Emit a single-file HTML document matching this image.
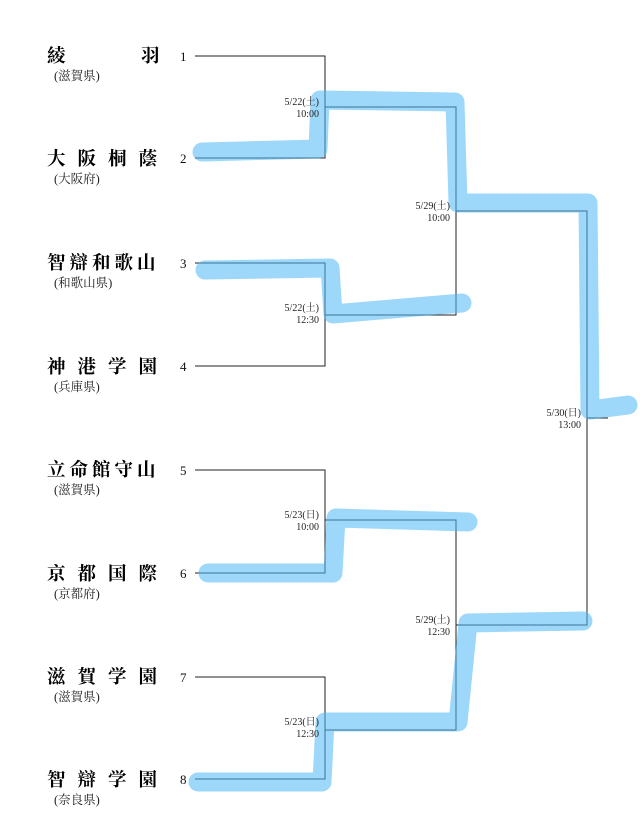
<!DOCTYPE html>
<html><head><meta charset="utf-8"><style>
body{margin:0;background:#fff}
svg{display:block}
.n{font-family:"Liberation Serif","Noto Serif CJK SC",serif;font-size:18.5px;fill:#000;font-weight:bold}
.p{font-family:"Liberation Serif","Noto Serif CJK SC",serif;font-size:12.5px;fill:#222}
.d{font-family:"Liberation Serif","Noto Serif CJK SC",serif;font-size:10px;fill:#222;text-anchor:end}
.num{font-family:"Liberation Serif",serif;font-size:13px;fill:#111}
</style></head><body>
<svg width="640" height="837" viewBox="0 0 640 837">
<g stroke="#222" stroke-width="1" fill="none">
<polyline points="195,56 325,56 325,158 195,158"/>
<polyline points="195,263 325,263 325,366 195,366"/>
<polyline points="195,470 325,470 325,573 195,573"/>
<polyline points="195,677 325,677 325,779 195,779"/>
<polyline points="325,107 456,107 456,315 325,315"/>
<polyline points="325,520 456,520 456,730 325,730"/>
<polyline points="456,211 587,211 587,625 456,625"/>
<line x1="587" y1="418" x2="608" y2="418"/>
</g>
<g stroke="#4db8f5" stroke-opacity="0.55" stroke-width="19" fill="none" stroke-linejoin="round" stroke-linecap="round">
<polyline points="202,152 318,149 320,100 455,102 458,203 588,203 590,410 628,405"/>
<polyline points="205,270 330,268 333,314 462,303"/>
<polyline points="208,573 333,573 336,518 468,522"/>
<polyline points="198,782 322,782 325,722 458,722 468,623 583,621"/>
</g>
<g>
<text class="n" x="47" y="62">綾</text><text class="n" x="141" y="62">羽</text>
<text class="p" x="54" y="80">(滋賀県)</text>
<text class="n" x="47" y="165" letter-spacing="12">大阪桐蔭</text>
<text class="p" x="54" y="183">(大阪府)</text>
<text class="n" x="47" y="269" letter-spacing="4">智辯和歌山</text>
<text class="p" x="54" y="287">(和歌山県)</text>
<text class="n" x="47" y="373" letter-spacing="12">神港学園</text>
<text class="p" x="54" y="391">(兵庫県)</text>
<text class="n" x="47" y="476" letter-spacing="4">立命館守山</text>
<text class="p" x="54" y="494">(滋賀県)</text>
<text class="n" x="47" y="580" letter-spacing="12">京都国際</text>
<text class="p" x="54" y="598">(京都府)</text>
<text class="n" x="47" y="683" letter-spacing="12">滋賀学園</text>
<text class="p" x="54" y="701">(滋賀県)</text>
<text class="n" x="47" y="786" letter-spacing="12">智辯学園</text>
<text class="p" x="54" y="804">(奈良県)</text>
</g>
<g class="num">
<text class="num" x="180" y="61">1</text><text class="num" x="180" y="163">2</text>
<text class="num" x="180" y="268">3</text><text class="num" x="180" y="371">4</text>
<text class="num" x="180" y="475">5</text><text class="num" x="180" y="578">6</text>
<text class="num" x="180" y="682">7</text><text class="num" x="180" y="784">8</text>
</g>
<text class="d" x="319" y="105">5/22(土)</text><text class="d" x="319" y="117">10:00</text>
<text class="d" x="319" y="311">5/22(土)</text><text class="d" x="319" y="323">12:30</text>
<text class="d" x="319" y="518">5/23(日)</text><text class="d" x="319" y="530">10:00</text>
<text class="d" x="319" y="725">5/23(日)</text><text class="d" x="319" y="737">12:30</text>
<text class="d" x="450" y="209">5/29(土)</text><text class="d" x="450" y="221">10:00</text>
<text class="d" x="450" y="623">5/29(土)</text><text class="d" x="450" y="635">12:30</text>
<text class="d" x="581" y="416">5/30(日)</text><text class="d" x="581" y="428">13:00</text>
</svg>
</body></html>
